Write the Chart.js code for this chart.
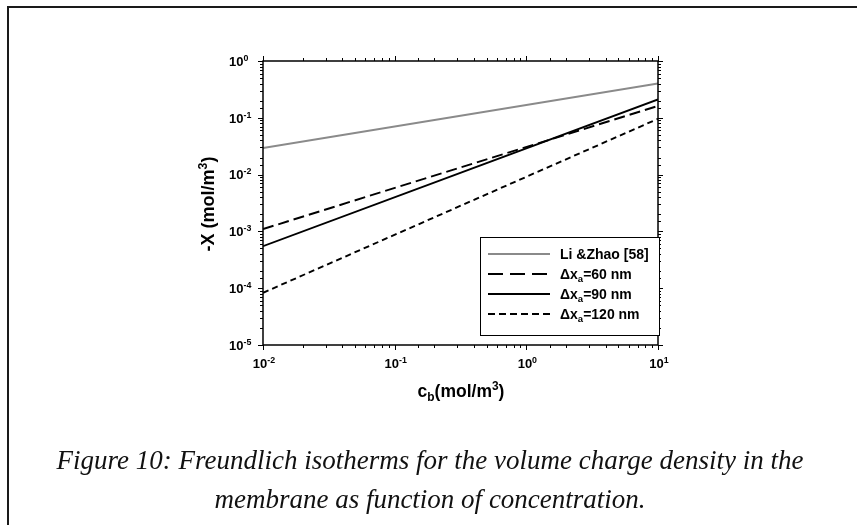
<!DOCTYPE html>
<html lang="en">
<head>
  <meta charset="UTF-8" />
  <title>Figure 10 - Freundlich isotherms</title>
  <script src="https://cdn.jsdelivr.net/npm/chart.js"></script>
  <style>
    html, body { margin: 0; padding: 0; background: #fff; overflow: hidden; }
    #wrap { position: relative; width: 857px; height: 525px; overflow: hidden; }
    #frame { position: absolute; left: 7px; top: 6px; width: 900px; height: 600px;
             border-left: 2px solid #1a1a1a; border-top: 2px solid #1a1a1a; }
    #grafico { position: absolute; left: 0; top: 0; }
    #caption { position: absolute; left: 0; top: 441px; width: 860px; text-align: center;
               font-family: "Liberation Serif", serif; font-style: italic; font-size: 27px;
               line-height: 39px; color: #111; }
  </style>
</head>
<body>
  <div id="wrap">
    <div id="frame"></div>
    <canvas id="grafico" width="857" height="525"></canvas>
    <div id="caption">Figure 10: Freundlich isotherms for the volume charge density in the<br>membrane as function of concentration.</div>
  </div>

  <script>
    // concentration c_b (mol/m3) and -X (mol/m3) (straight lines in log-log)
    const cb = [0.01, 10];
    const liZhao = [0.0295, 0.40];
    const dx60 = [0.00110, 0.162];
    const dx90 = [0.00055, 0.210];
    const dx120 = [0.000083, 0.096];

    // legend texts, [text, mode]  mode: 0 normal, -1 subscript
    const legendLabels = [
      [['Li &Zhao [58]', 0]],
      [['\u0394x', 0], ['a', -1], ['=60 nm', 0]],
      [['\u0394x', 0], ['a', -1], ['=90 nm', 0]],
      [['\u0394x', 0], ['a', -1], ['=120 nm', 0]]
    ];
    const xTitle = [['c', 0], ['b', -1], ['(mol/m', 0], ['3', 1], [')', 0]];
    const yTitle = [['-X (mol/m', 0], ['3', 1], [')', 0]];

    const FONT = '"Liberation Sans", Arial, sans-serif';

    function pts(ys) {
      return cb.map((x, i) => ({ x: x, y: ys[i] }));
    }

    function isDecade(v) {
      const l = Math.log10(v);
      return Math.abs(l - Math.round(l)) < 1e-6;
    }

    // draws text with sub/superscripts, y = baseline
    function drawRich(ctx, parts, x, y, size, align) {
      const small = size * 0.68;
      const widths = parts.map(([t, m]) => {
        ctx.font = `bold ${m ? small : size}px ${FONT}`;
        return ctx.measureText(t).width;
      });
      const total = widths.reduce((a, b) => a + b, 0);
      let cx = align === 'center' ? x - total / 2 : align === 'right' ? x - total : x;
      ctx.textAlign = 'left';
      ctx.textBaseline = 'alphabetic';
      parts.forEach(([t, m], i) => {
        ctx.font = `bold ${m ? small : size}px ${FONT}`;
        const dy = m === 1 ? -size * 0.38 : m === -1 ? size * 0.22 : 0;
        ctx.fillText(t, cx, y + dy);
        cx += widths[i];
      });
      return total;
    }

    function seg(ctx, x1, y1, x2, y2) {
      ctx.beginPath();
      ctx.moveTo(x1, y1);
      ctx.lineTo(x2, y2);
      ctx.stroke();
    }

    const figurePlugin = {
      id: 'figura',
      afterDatasetsDraw(chart) {
        const ctx = chart.ctx;
        const { left, right, top, bottom } = chart.chartArea;
        const xs = chart.scales.x, ys = chart.scales.y;
        ctx.save();
        ctx.strokeStyle = '#000';
        ctx.fillStyle = '#000';
        ctx.setLineDash([]);

        // frame
        ctx.lineWidth = 1.5;
        ctx.strokeRect(left, top, right - left, bottom - top);

        // ticks on all four sides, outward
        ctx.lineWidth = 1;
        xs.ticks.forEach(t => {
          const px = Math.round(xs.getPixelForValue(t.value)) + 0.5;
          const len = isDecade(t.value) ? 5 : 3;
          seg(ctx, px, bottom, px, bottom + len);
          seg(ctx, px, top, px, top - len);
        });
        ys.ticks.forEach(t => {
          const py = Math.round(ys.getPixelForValue(t.value)) + 0.5;
          const len = isDecade(t.value) ? 5 : 3;
          seg(ctx, left, py, left - len, py);
          seg(ctx, right, py, right + len, py);
        });

        // tick labels 10^n
        xs.ticks.filter(t => isDecade(t.value)).forEach(t => {
          const e = String(Math.round(Math.log10(t.value)));
          drawRich(ctx, [['10', 0], [e, 1]], xs.getPixelForValue(t.value) + 1, 368, 13, 'center');
        });
        ys.ticks.filter(t => isDecade(t.value)).forEach(t => {
          const e = String(Math.round(Math.log10(t.value)));
          drawRich(ctx, [['10', 0], [e, 1]], 229, ys.getPixelForValue(t.value) + 4.7, 13, 'left');
        });

        // axis titles
        drawRich(ctx, xTitle, 461, 397, 17.5, 'center');
        ctx.save();
        ctx.translate(214, 204);
        ctx.rotate(-Math.PI / 2);
        drawRich(ctx, yTitle, 0, 0, 18, 'center');
        ctx.restore();

        // legend
        const lx = 480, ly = 237, lw = 179, lh = 98;
        ctx.fillStyle = '#fff';
        ctx.fillRect(lx, ly, lw, lh);
        ctx.lineWidth = 1;
        ctx.strokeStyle = '#000';
        ctx.strokeRect(lx + 0.5, ly + 0.5, lw, lh);
        chart.data.datasets.forEach((ds, i) => {
          const cy = 254 + i * 20;
          ctx.strokeStyle = ds.borderColor;
          ctx.lineWidth = ds.borderWidth;
          ctx.setLineDash(ds.legendDash || ds.borderDash || []);
          seg(ctx, 488, cy, 550, cy);
          ctx.setLineDash([]);
          ctx.fillStyle = '#000';
          drawRich(ctx, legendLabels[i], 560, cy + 5, 14, 'left');
        });
        ctx.restore();
      }
    };

    new Chart(document.getElementById('grafico'), {
      type: 'line',
      data: {
        datasets: [
          { label: 'Li &Zhao [58]', data: pts(liZhao), borderColor: '#8a8a8a', borderWidth: 2 },
          { label: '\u0394xa=60 nm', data: pts(dx60), borderColor: '#000', borderWidth: 1.9,
            borderDash: [11, 5], legendDash: [15, 7] },
          { label: '\u0394xa=90 nm', data: pts(dx90), borderColor: '#000', borderWidth: 1.9 },
          { label: '\u0394xa=120 nm', data: pts(dx120), borderColor: '#000', borderWidth: 1.9,
            borderDash: [6, 4], legendDash: [7, 4] }
        ]
      },
      options: {
        responsive: false,
        animation: false,
        layout: { padding: { left: 263, top: 61, right: 199, bottom: 180 } },
        elements: { point: { radius: 0 }, line: { tension: 0, fill: false } },
        scales: {
          x: { type: 'logarithmic', min: 0.01, max: 10,
               ticks: { display: false }, grid: { display: false }, border: { display: false },
               afterFit(s) { s.height = 0; } },
          y: { type: 'logarithmic', min: 1e-5, max: 1,
               ticks: { display: false }, grid: { display: false }, border: { display: false },
               afterFit(s) { s.width = 0; } }
        },
        plugins: { legend: { display: false }, tooltip: { enabled: false } }
      },
      plugins: [figurePlugin]
    });
  </script>
</body>
</html>
